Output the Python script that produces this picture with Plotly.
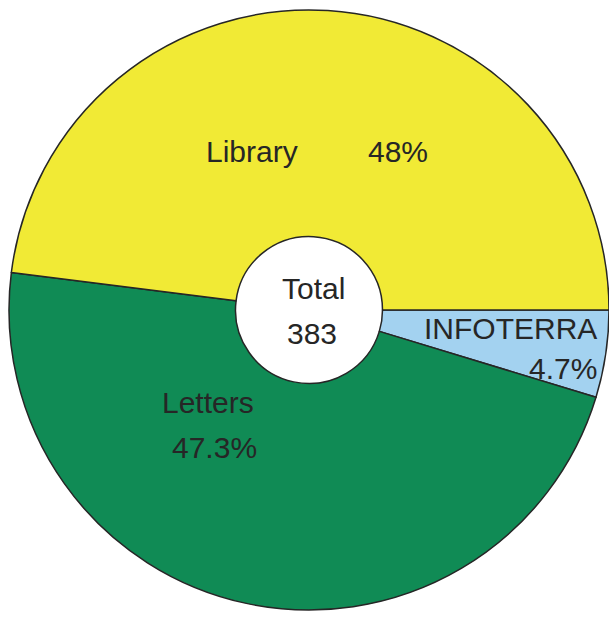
import plotly.graph_objects as go

labels = ["Library", "Letters", "INFOTERRA"]
shares = [48.0, 47.3, 4.7]
colors = ["#F1EA35", "#108B55", "#A3D2F0"]
total = 383

W, H = 609, 618


def px(x, y):
    # pixel position -> paper coords
    return x / W, 1 - y / H


fig = go.Figure()

# drawn clockwise from 3 o'clock: INFOTERRA, Letters, Library
fig.add_trace(go.Pie(
    labels=labels[::-1],
    values=shares[::-1],
    sort=False,
    direction="clockwise",
    rotation=90,
    hole=0.245,
    textinfo="none",
    hoverinfo="label+value",
    marker=dict(colors=colors[::-1], line=dict(color="#262626", width=1.5)),
    domain=dict(x=[9 / W, 609 / W], y=[8 / H, 608 / H]),
    showlegend=False,
))

font = dict(family="Liberation Sans, Arial, sans-serif", size=30, color="#262626")

notes = [
    ("Library", 252, 152),
    (f"{shares[0]:g}%", 398, 152),
    ("Total", 313, 289),
    (str(total), 312, 333),
    ("INFOTERRA", 510, 329),
    (f"{shares[2]:g}%", 563, 368),
    ("Letters", 208, 402),
    (f"{shares[1]:g}%", 214, 447),
]
for text, x, y in notes:
    ax, ay = px(x, y)
    fig.add_annotation(x=ax, y=ay, xref="paper", yref="paper", text=text,
                       showarrow=False, font=font, xanchor="center", yanchor="middle")

fig.update_layout(
    width=W,
    height=H,
    margin=dict(l=0, r=0, t=0, b=0),
    paper_bgcolor="white",
    plot_bgcolor="white",
)

fig.write_html("out.html", config={"displayModeBar": False},
               post_script="document.body.style.margin='0';")
